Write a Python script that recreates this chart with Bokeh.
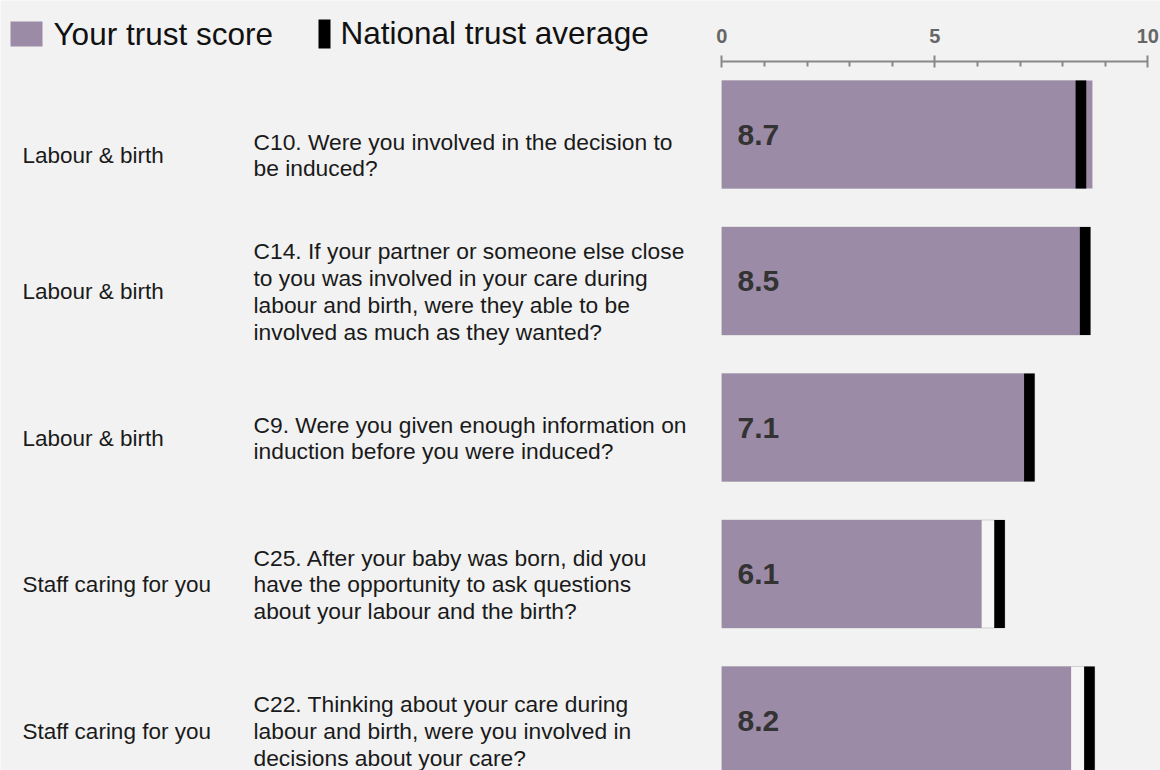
from bokeh.plotting import figure
from bokeh.models import Range1d, LinearAxis, FixedTicker
from bokeh.core.properties import value
from bokeh.embed import file_html
from bokeh.resources import INLINE

# ---------------- data ----------------
categories = ["Labour & birth", "Labour & birth", "Labour & birth",
              "Staff caring for you", "Staff caring for you"]
questions = [
    "C10. Were you involved in the decision to\nbe induced?",
    "C14. If your partner or someone else close\nto you was involved in your care during\nlabour and birth, were they able to be\ninvolved as much as they wanted?",
    "C9. Were you given enough information on\ninduction before you were induced?",
    "C25. After your baby was born, did you\nhave the opportunity to ask questions\nabout your labour and the birth?",
    "C22. Thinking about your care during\nlabour and birth, were you involved in\ndecisions about your care?",
]
trust_scores = [8.7, 8.5, 7.1, 6.1, 8.2]
national_avg = [8.43, 8.53, 7.22, 6.52, 8.63]
major_ticks = [0, 5, 10]
minor_ticks = [1, 2, 3, 4, 6, 7, 8, 9]
legend_labels = ["Your trust score", "National trust average"]

# ---------------- geometry ----------------
W, H = 1160, 770
X0, PXU = 721.3, 42.6          # pixel of value 0, pixels per unit
ROW0, ROWSP = 134.0, 146.5     # pixel of first bar centre, row spacing


def xd(px):
    return (px - X0) / PXU


def yd(px):
    return (px - ROW0) / ROWSP


PURPLE = "#9c8ba7"
BG = "#f2f2f2"
FONT = value("Liberation Sans")

p = figure(width=W, height=H,
           x_range=Range1d(xd(0), xd(W)),
           y_range=Range1d(yd(H), yd(0)),
           output_backend="svg", toolbar_location=None, min_border=0,
           x_axis_location=None, y_axis_location=None,
           background_fill_color=BG, border_fill_color=BG,
           outline_line_color=None)
p.grid.visible = False

rows = list(range(len(trust_scores)))
bar_h = 108 / ROWSP
mw = 0.25

# light background box up to national marker
p.hbar(y=rows, left=0, right=[a + mw / 2 for a in national_avg], height=bar_h,
       fill_color="#f6f6f6", line_color="#cfcfcf", line_width=1)
# trust score bars
p.hbar(y=rows, left=0, right=trust_scores, height=bar_h,
       fill_color=PURPLE, line_color=None)
# national average markers
p.hbar(y=rows, left=[a - mw / 2 for a in national_avg],
       right=[a + mw / 2 for a in national_avg], height=bar_h,
       fill_color="black", line_color=None)

# value labels
p.text(x=xd(737), y=rows, text=[f"{v:.1f}" for v in trust_scores],
       text_baseline="middle", text_align="left", text_font=FONT,
       text_font_size="30px", text_font_style="bold", text_color="#333333")

# row texts (pixel offsets from each bar centre)
text_offsets_px = [20.5, 10.5, 10.5, 10.5, 10.5]
text_y = [r + o / ROWSP for r, o in zip(rows, text_offsets_px)]
p.text(x=xd(22), y=text_y, text=categories, text_baseline="middle",
       text_align="left", text_font=FONT, text_font_size="22.5px",
       text_color="#1a1a1a")
p.text(x=xd(253), y=text_y, text=questions, text_baseline="middle",
       text_align="left", text_font=FONT, text_font_size="22.8px",
       text_color="#1a1a1a", text_line_height=1.03)

# axis
ax = LinearAxis(fixed_location=yd(60.7), bounds=(0, 10),
                ticker=FixedTicker(ticks=major_ticks, minor_ticks=minor_ticks),
                axis_line_color="#888888", axis_line_width=2,
                major_tick_line_color="#888888", major_tick_line_width=2,
                major_tick_in=6, major_tick_out=6,
                minor_tick_line_color="#888888", minor_tick_line_width=2,
                minor_tick_in=5, minor_tick_out=0,
                major_label_text_font_size="20px",
                major_label_text_font_style="bold",
                major_label_text_color="#666666",
                major_label_text_font="Liberation Sans",
                major_label_standoff=12)
p.add_layout(ax, "above")

# legend
p.quad(left=[xd(10)], right=[xd(42)], top=[yd(21)], bottom=[yd(46)],
       fill_color=PURPLE, line_color=None)
p.quad(left=[xd(318)], right=[xd(330)], top=[yd(19)], bottom=[yd(48)],
       fill_color="black", line_color=None)
p.text(x=[xd(53), xd(340)], y=[yd(33), yd(32)], text=legend_labels,
       text_baseline="middle", text_align="left", text_font=FONT,
       text_font_size="31.5px", text_color="#111111")

open("out.html", "w").write(file_html(p, INLINE))
